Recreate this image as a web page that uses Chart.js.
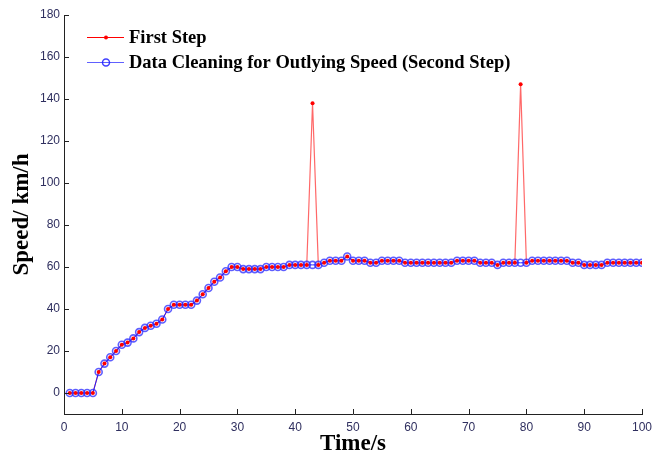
<!DOCTYPE html>
<html>
<head>
<meta charset="utf-8">
<script src="https://cdn.jsdelivr.net/npm/chart.js@4.4.1/dist/chart.umd.min.js"></script>
<style>
  html, body { margin: 0; padding: 0; background: #fff; }
  #wrap { width: 654px; height: 460px; }
</style>
</head>
<body>
<div id="wrap"><canvas id="chart" width="654" height="460"></canvas></div>
<script>
// time axis, one sample per second
const timeSeconds = [
  1, 2, 3, 4, 5, 6, 7, 8, 9, 10, 11, 12, 13, 14, 15, 16, 17, 18, 19, 20,
  21, 22, 23, 24, 25, 26, 27, 28, 29, 30, 31, 32, 33, 34, 35, 36, 37, 38, 39, 40,
  41, 42, 43, 44, 45, 46, 47, 48, 49, 50, 51, 52, 53, 54, 55, 56, 57, 58, 59, 60,
  61, 62, 63, 64, 65, 66, 67, 68, 69, 70, 71, 72, 73, 74, 75, 76, 77, 78, 79, 80,
  81, 82, 83, 84, 85, 86, 87, 88, 89, 90, 91, 92, 93, 94, 95, 96, 97, 98, 99, 100
];

// raw speed (first step) - contains the two outliers
const firstStep = [
  0, 0, 0, 0, 0, 10, 14, 17, 20, 23, 24, 26, 29, 31, 32, 33, 35, 40, 42, 42,
  42, 42, 44, 47, 50, 53, 55, 58, 60, 60, 59, 59, 59, 59, 60, 60, 60, 60, 61, 61,
  61, 61, 138, 61, 62, 63, 63, 63, 65, 63, 63, 63, 62, 62, 63, 63, 63, 63, 62, 62,
  62, 62, 62, 62, 62, 62, 62, 63, 63, 63, 63, 62, 62, 62, 61, 62, 62, 62, 147, 62,
  63, 63, 63, 63, 63, 63, 63, 62, 62, 61, 61, 61, 61, 62, 62, 62, 62, 62, 62, 62
];

// cleaned speed (second step)
const secondStep = [
  0, 0, 0, 0, 0, 10, 14, 17, 20, 23, 24, 26, 29, 31, 32, 33, 35, 40, 42, 42,
  42, 42, 44, 47, 50, 53, 55, 58, 60, 60, 59, 59, 59, 59, 60, 60, 60, 60, 61, 61,
  61, 61, 61, 61, 62, 63, 63, 63, 65, 63, 63, 63, 62, 62, 63, 63, 63, 63, 62, 62,
  62, 62, 62, 62, 62, 62, 62, 63, 63, 63, 63, 62, 62, 62, 61, 62, 62, 62, 62, 62,
  63, 63, 63, 63, 63, 63, 63, 62, 62, 61, 61, 61, 61, 62, 62, 62, 62, 62, 62, 62
];

const legendLabels = ["First Step", "Data Cleaning for Outlying Speed (Second Step)"];
const xTitle = "Time/s";
const yTitle = "Speed/ km/h";

const toPoints = (ys) => timeSeconds.map((t, i) => ({ x: t, y: ys[i] }));

const serif = "'Liberation Serif', 'Times New Roman', serif";
const sans = "'Liberation Sans', Arial, sans-serif";

// inward tick marks like the matlab axes
const innerTicks = {
  id: "innerTicks",
  afterDraw(chart) {
    const ctx = chart.ctx;
    const area = chart.chartArea;
    const xs = chart.scales.x;
    const ys = chart.scales.y;
    ctx.save();
    ctx.strokeStyle = "#222";
    ctx.lineWidth = 1;
    ctx.beginPath();
    xs.ticks.forEach((t) => {
      const px = Math.round(xs.getPixelForValue(t.value)) + 0.5;
      ctx.moveTo(px, area.bottom);
      ctx.lineTo(px, area.bottom - 5);
    });
    ys.ticks.forEach((t) => {
      const py = Math.round(ys.getPixelForValue(t.value)) + 0.5;
      ctx.moveTo(area.left, py);
      ctx.lineTo(area.left + 5, py);
    });
    ctx.stroke();
    ctx.restore();
  }
};

// legend drawn by hand: line with marker in the middle
const lineLegend = {
  id: "lineLegend",
  afterDraw(chart) {
    const ctx = chart.ctx;
    const rows = [
      { y: 37.5, color: "#ff0000", marker: "dot" },
      { y: 62.5, color: "#6060ff", marker: "ring" }
    ];
    ctx.save();
    rows.forEach((r, i) => {
      ctx.strokeStyle = r.color;
      ctx.lineWidth = 1;
      ctx.beginPath();
      ctx.moveTo(87, r.y);
      ctx.lineTo(124, r.y);
      ctx.stroke();
      ctx.beginPath();
      if (r.marker === "dot") {
        ctx.fillStyle = "#ff0000";
        ctx.arc(106, r.y, 2, 0, Math.PI * 2);
        ctx.fill();
      } else {
        ctx.strokeStyle = "rgba(30,30,255,0.85)";
        ctx.lineWidth = 1.5;
        ctx.arc(106, r.y, 3.5, 0, Math.PI * 2);
        ctx.stroke();
      }
      ctx.fillStyle = "#000";
      ctx.font = "bold 18.5px " + serif;
      ctx.textBaseline = "middle";
      ctx.fillText(legendLabels[i], 129, r.y + 1);
    });
    ctx.restore();
  }
};

new Chart(document.getElementById("chart"), {
  type: "line",
  data: {
    datasets: [
      {
        label: legendLabels[0],
        data: toPoints(firstStep),
        borderColor: "rgba(255,40,40,0.7)",
        borderWidth: 1.2,
        pointRadius: 0,
        order: 3
      },
      {
        label: legendLabels[1],
        data: toPoints(secondStep),
        borderColor: "#1a1aff",
        borderWidth: 1,
        pointRadius: 3.5,
        pointStyle: "circle",
        pointBackgroundColor: "rgba(255,255,255,0)",
        pointBorderColor: "rgba(40,40,255,0.75)",
        pointBorderWidth: 1.6,
        order: 2
      },
      {
        label: legendLabels[0] + " markers",
        data: toPoints(firstStep),
        showLine: false,
        pointRadius: 2,
        pointBackgroundColor: "#ff0000",
        pointBorderColor: "#ff0000",
        pointBorderWidth: 0,
        order: 1
      }
    ]
  },
  options: {
    responsive: false,
    animation: false,
    devicePixelRatio: 1,
    layout: { padding: { left: 0, right: 12, top: 15, bottom: 0 } },
    plugins: {
      legend: { display: false },
      tooltip: { enabled: false }
    },
    scales: {
      x: {
        type: "linear",
        min: 0,
        max: 100,
        ticks: { stepSize: 10, color: "#2f2f5f", font: { family: sans, size: 12 }, padding: 6, maxRotation: 0 },
        grid: { display: false, drawTicks: false },
        border: { display: true, color: "#222", width: 1 },
        title: { display: true, text: xTitle, color: "#000", font: { family: serif, size: 23, weight: "bold" }, padding: { top: 0, bottom: 2 } },
        afterFit(scale) {
          scale.height = 46;
          scale.paddingRight = 0;
        }
      },
      y: {
        min: -10,
        max: 180,
        ticks: { stepSize: 20, color: "#2f2f5f", font: { family: sans, size: 12 }, padding: 4 },
        grid: { display: false, drawTicks: false },
        border: { display: true, color: "#222", width: 1 },
        title: { display: true, text: yTitle, color: "#000", font: { family: serif, size: 23, weight: "bold" }, padding: { top: 8, bottom: 0 } },
        afterBuildTicks(scale) { scale.ticks = scale.ticks.filter((t) => t.value >= 0); },
        afterFit(scale) { scale.width = 64; }
      }
    }
  },
  plugins: [innerTicks, lineLegend]
});
</script>
</body>
</html>
